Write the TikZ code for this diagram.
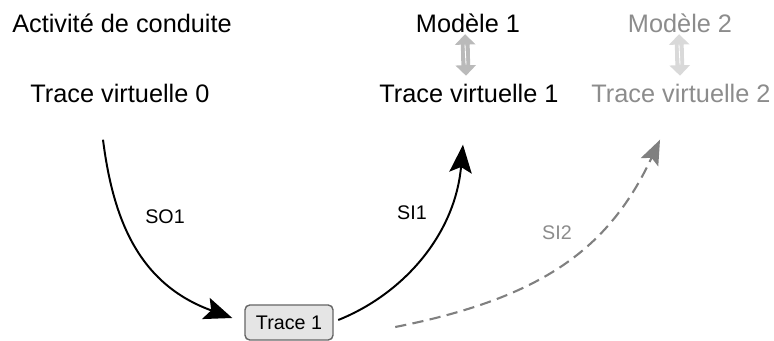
\documentclass[tikz,border=0pt]{standalone}
\usepackage{fontspec}
\setmainfont{Liberation Sans}
\usetikzlibrary{arrows.meta}

\begin{document}
\begin{tikzpicture}[x=0.025cm, y=0.025cm,
  big/.style={font=\fontsize{18}{20}\selectfont, anchor=base},
  small/.style={font=\fontsize{14}{16}\selectfont},
  link/.style={line width=1.4pt, -{Stealth[length=0.7cm, width=0.56cm, inset=0.14cm]}},
  linkdash/.style={black!50, line width=1.5pt, dash pattern=on 8pt off 4.5pt, -{Stealth[length=0.62cm, width=0.48cm, inset=0.12cm]}},
  swap/.style={line width=0.22cm, {Triangle[length=0.26cm, width=0.5cm]}-{Triangle[length=0.26cm, width=0.5cm]}}]
\useasboundingbox (0,0) rectangle (774,341);

% texts
\node[big] (act) at (122,308) {Activité de conduite};
\node[big] (tv0) at (120,238) {Trace virtuelle 0};
\node[big] (mod1) at (468,308) {Modèle 1};
\node[big] (tv1) at (469,238) {Trace virtuelle 1};
\node[big, black!45] (mod2) at (680,308) {Modèle 2};
\node[big, black!45] (tv2) at (681,238) {Trace virtuelle 2};

% model <-> trace
\draw[swap, black!27] ([shift={(-3,4)}]mod1.south) -- ([shift={(-3,4)}]tv1.north);
\draw[white, line width=0.6pt] ([shift={(-3,-6.5)}]mod1.south) -- ([shift={(-3,15)}]tv1.north);
\draw[swap, black!15] ([shift={(-1,4)}]mod2.south) -- ([shift={(-1,4)}]tv2.north);
\draw[white, line width=0.6pt] ([shift={(-1,-6.5)}]mod2.south) -- ([shift={(-1,15)}]tv2.north);

\node[small, draw=black!60, fill=black!10, line width=1pt, rounded corners=0.12cm,
  minimum width=2.2cm, minimum height=0.875cm] (tr1) at (289,18.5) {Trace 1};

% curves
\draw[link] ([shift={(-17,-31.5)}]tv0.south) .. controls +(10,-79) and +(-94,34) .. ([shift={(-12,4.5)}]tr1.west);
\draw[link] ([shift={(4.5,2.5)}]tr1.east) .. controls +(65,26) and +(-8,-90) .. ([shift={(-6,-36.5)}]tv1.south);
\draw[linkdash] ([shift={(61.5,-4.5)}]tr1.east) .. controls +(147,29) and +(-51,-109) .. ([shift={(-21,-31.5)}]tv2.south);

\node[small] (so1) at (165,124) {SO1};
\node[small] (si1) at (412,128) {SI1};
\node[small, black!45] (si2) at (557,108) {SI2};
\end{tikzpicture}
\end{document}
